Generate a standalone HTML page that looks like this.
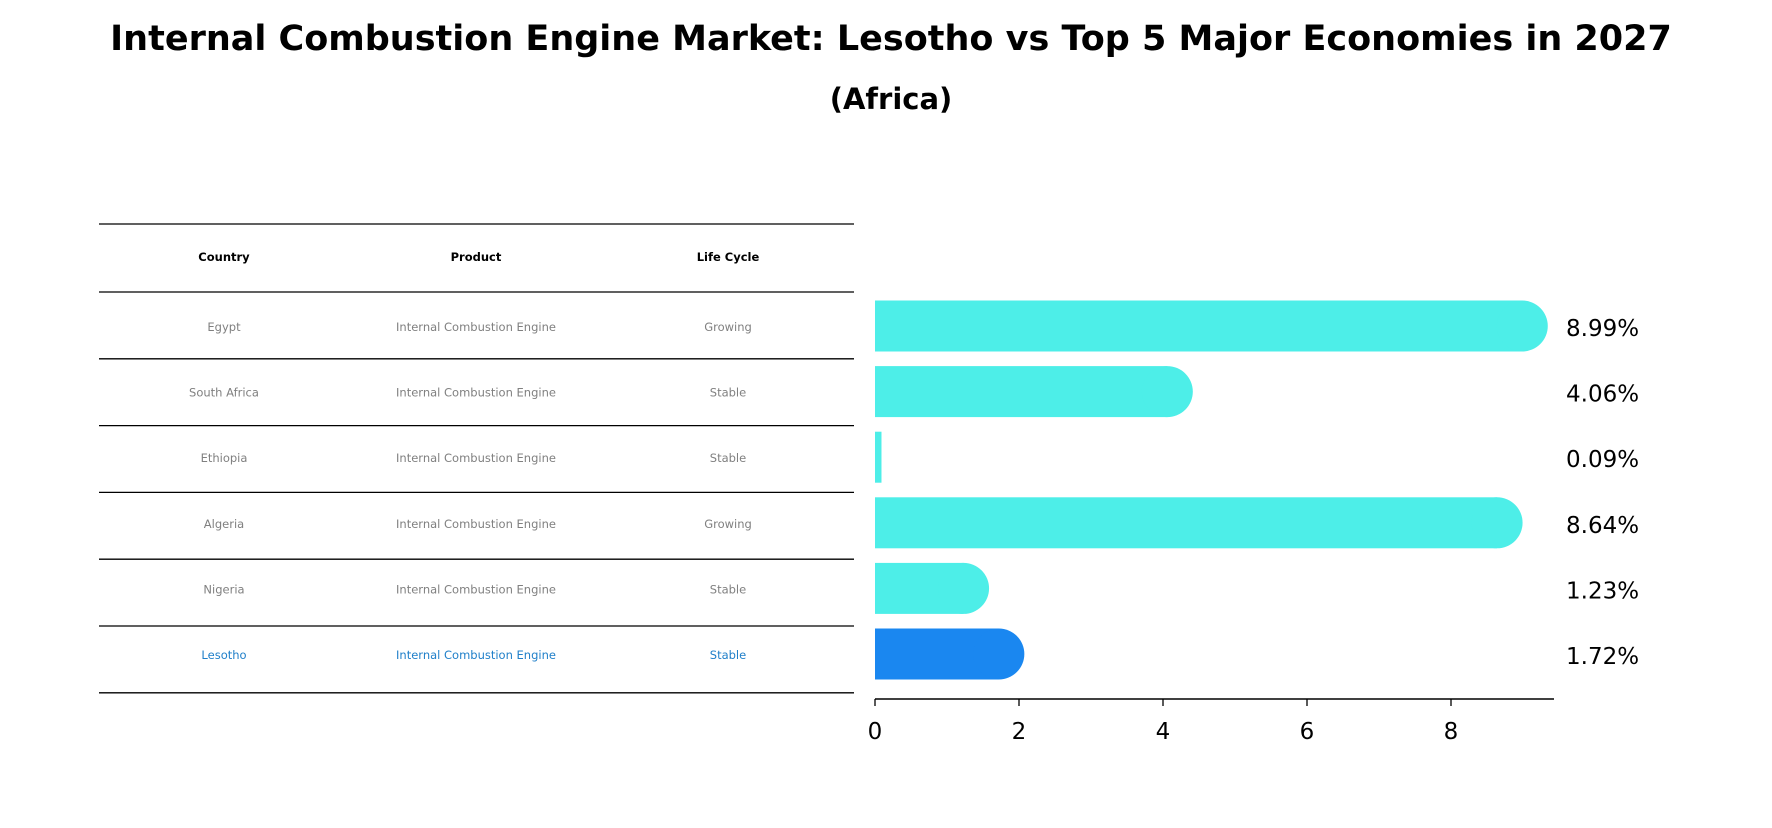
<!DOCTYPE html>
<html><head><meta charset="utf-8"><style>
body{margin:0;background:#fff;font-family:"Liberation Sans","DejaVu Sans",sans-serif;}
svg text{font-family:"DejaVu Sans","Liberation Sans",sans-serif;}
</style></head><body>
<svg id="c" width="1772" height="823" xmlns="http://www.w3.org/2000/svg">
<text x="891" y="50" text-anchor="middle" font-size="35" font-weight="bold">Internal Combustion Engine Market: Lesotho vs Top 5 Major Economies in 2027</text>
<text x="891" y="109" text-anchor="middle" font-size="29" font-weight="bold">(Africa)</text>
<g id="tbl"></g>
<g id="bars"></g>
<g id="axis"></g>
</svg>
<script>
const countries=["Egypt","South Africa","Ethiopia","Algeria","Nigeria","Lesotho"];
const products=["Internal Combustion Engine","Internal Combustion Engine","Internal Combustion Engine","Internal Combustion Engine","Internal Combustion Engine","Internal Combustion Engine"];
const lifecycle=["Growing","Stable","Stable","Growing","Stable","Stable"];
const values=[8.99,4.06,0.09,8.64,1.23,1.72];
const ticks=[0,2,4,6,8];
const NS="http://www.w3.org/2000/svg";
function mk(t,a,p){const e=document.createElementNS(NS,t);for(const k in a)e.setAttribute(k,a[k]);p.appendChild(e);return e;}
const x0=875,ux=72,y0=326,step=65.6,bh=51,r=25.5;
const X=v=>x0+v*ux, Y=i=>y0+i*step;
const tbl=document.getElementById('tbl');
const lineYs=[224,292];for(let i=0;i<6;i++)lineYs.push(292+(i+1)*66.8);
lineYs.forEach((y,i)=>{const l=mk('line',{x1:99,x2:854,y1:y,y2:y,stroke:'#000','stroke-width':1.3},tbl);

});
const cx=[224,476,728];
["Country","Product","Life Cycle"].forEach((h,j)=>{const t=mk('text',{x:cx[j],y:261,'text-anchor':'middle','font-size':11.5,'font-weight':'bold'},tbl);t.textContent=h;

});
countries.forEach((c,i)=>{const y=Y(i)+5;const col=i==5?'#1f7fc9':'#808080';
[c,products[i],lifecycle[i]].forEach((s,j)=>{const t=mk('text',{x:cx[j],y:y,'text-anchor':'middle','font-size':11.5,fill:col},tbl);t.textContent=s;

});});
const bars=document.getElementById('bars');
values.forEach((v,i)=>{const col=i==5?'#1a87f0':'#4deee8';const y=Y(i);const w=X(v)-x0;
const g=mk('g',{},bars);


if(v>0.5){mk('rect',{x:x0,y:y-bh/2,width:w,height:bh,fill:col},g);mk('ellipse',{cx:X(v),cy:y,rx:r,ry:bh/2,fill:col},g);}
else mk('rect',{x:x0,y:y-bh/2,width:Math.max(w,5),height:bh,fill:col},g);
const t=mk('text',{x:1566,y:y+10,'font-size':23},bars);t.textContent=v.toFixed(2)+'%';

});
const ax=document.getElementById('axis');
mk('line',{x1:x0,x2:1554,y1:699,y2:699,stroke:'#000','stroke-width':1.5},ax);
ticks.forEach(v=>{mk('line',{x1:X(v),x2:X(v),y1:699,y2:706,stroke:'#000','stroke-width':1.3},ax);
const t=mk('text',{x:X(v),y:739,'text-anchor':'middle','font-size':23},ax);t.textContent=v;

});
</script>
</body></html>
